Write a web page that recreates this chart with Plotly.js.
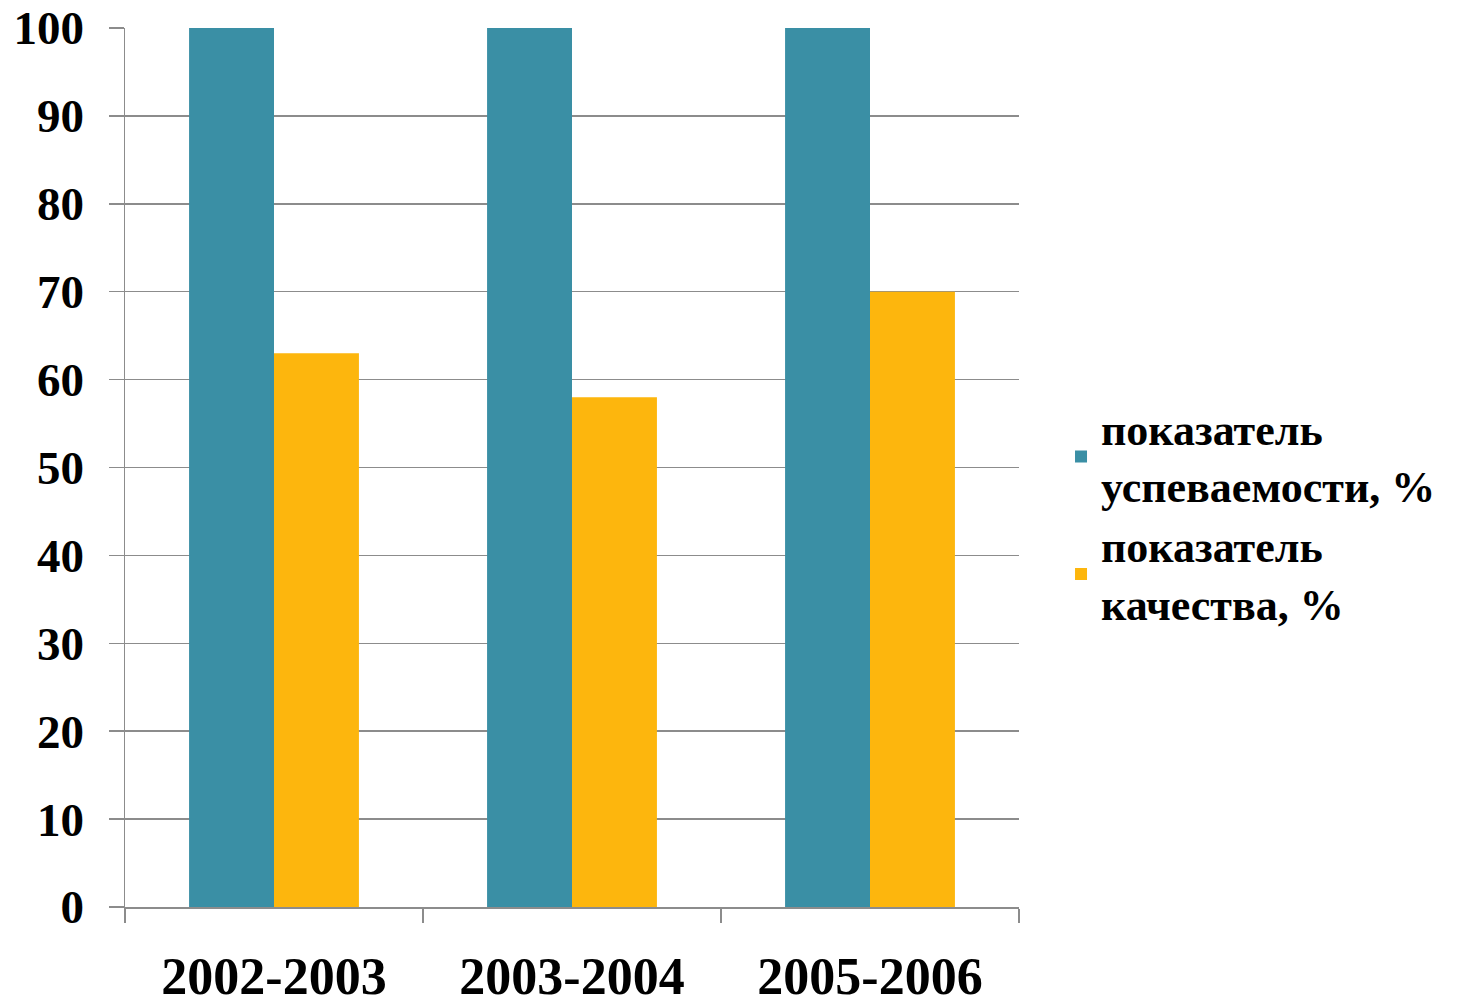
<!DOCTYPE html>
<html>
<head>
<meta charset="utf-8">
<script src="https://cdn.plot.ly/plotly-3.0.1.min.js"></script>
<style>html,body{margin:0;padding:0;background:#fff;}#chart{width:1473px;height:1005px;}</style>
</head>
<body>
<div id="chart"></div>
<script>
const categories = ["2002-2003", "2003-2004", "2005-2006"];
const seriesNames = ["показатель<br>успеваемости, %", "показатель<br>качества, %"];
const progressValues = [100, 100, 100];
const qualityValues = [63, 58, 70];
const yTickValues = [0, 10, 20, 30, 40, 50, 60, 70, 80, 90, 100];

const fontFamily = "'Liberation Serif', 'Times New Roman', serif";
const gridColor = "#8c8c8c";

const traces = [
  {type: "bar", x: categories, y: progressValues, name: seriesNames[0],
   marker: {color: "#3A8FA5"}, hoverinfo: "y"},
  {type: "bar", x: categories, y: qualityValues, name: seriesNames[1],
   marker: {color: "#FDB60D"}, hoverinfo: "y"}
];

const layout = {
  width: 1473, height: 1005,
  margin: {l: 125, r: 454, t: 28, b: 98},
  paper_bgcolor: "#fff", plot_bgcolor: "#fff",
  barmode: "group", bargap: 0.43, bargroupgap: 0,
  showlegend: true,
  font: {family: fontFamily, color: "#000", weight: "bold"},
  xaxis: {
    type: "category", showgrid: false, showline: true, linecolor: gridColor, linewidth: 1.5,
    ticks: "outside", tickson: "boundaries", ticklen: 14, tickcolor: gridColor, tickwidth: 1.5,
    tickfont: {family: fontFamily, size: 52, color: "#000", weight: "bold"},
    ticklabelstandoff: 23
  },
  yaxis: {
    range: [0, 100], tickvals: yTickValues, showgrid: true, gridcolor: gridColor, gridwidth: 1.5,
    zeroline: false, showline: true, linecolor: gridColor, linewidth: 1.5,
    ticks: "outside", ticklen: 15, tickcolor: gridColor, tickwidth: 1.5,
    tickfont: {family: fontFamily, size: 47, color: "#000", weight: "bold"},
    ticklabelstandoff: 15
  },
  legend: {
    x: 1.047, xanchor: "left", y: 0.585, yanchor: "top",
    font: {family: fontFamily, size: 44, color: "#000", weight: "bold"},
    tracegroupgap: 8, bgcolor: "rgba(0,0,0,0)"
  }
};

Plotly.newPlot("chart", traces, layout, {staticPlot: true});
</script>
</body>
</html>
